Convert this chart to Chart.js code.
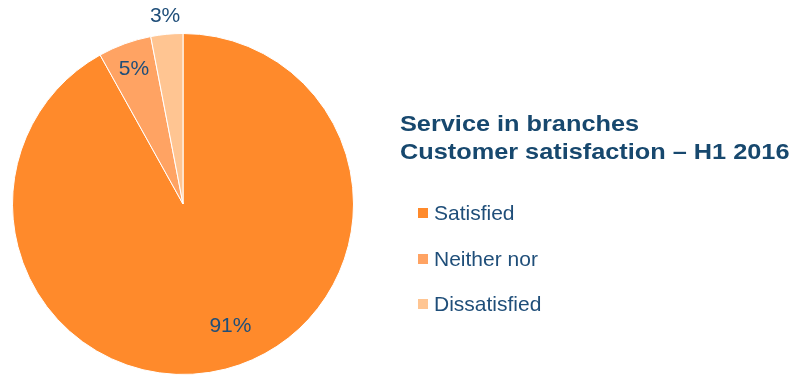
<!DOCTYPE html>
<html>
<head>
<meta charset="utf-8">
<script src="https://cdn.jsdelivr.net/npm/chart.js@4/dist/chart.umd.min.js"></script>
<style>
    html, body { margin: 0; padding: 0; background: #fff; }
    #wrap { position: relative; width: 797px; height: 377px; font-family: "Liberation Sans", Arial, sans-serif; }
    #wrap canvas { position: absolute; left: 0; top: 0; }
    #title { position: absolute; left: 400px; top: 110px; font-size: 22px; line-height: 28px; font-weight: bold; color: #17486e; white-space: nowrap; transform: scaleX(1.15); transform-origin: left top; }
    .legend-row { position: absolute; left: 418px; height: 24px; line-height: 24px; font-size: 21px; color: #1f4e79; white-space: nowrap; }
    .legend-box { position: absolute; left: 0; top: 7px; width: 10px; height: 10px; }
    .legend-text { position: absolute; left: 16px; top: 0; }
</style>
</head>
<body>
<div id="wrap">
    <canvas id="pieChart" width="797" height="377"></canvas>
    <div id="title"></div>
    <div id="legend"></div>
</div>
<script>
const categories = ["Satisfied", "Neither nor", "Dissatisfied"];
const shares = [91, 5, 3]; // percent
const sliceColors = ["#ff8a2b", "#ffa363", "#ffc592"];
const titleLines = ["Service in branches", "Customer satisfaction \u2013 H1 2016"];

// label placement per slice: fraction of the radius, and where along the slice (0..1)
const labelRadius = [0.77, 0.84, 1.105];
const labelAlong = [0.48, 0.5, 0.5];

document.getElementById("title").innerHTML = titleLines.join("<br>");

const legend = document.getElementById("legend");
categories.forEach((name, i) =>
{
    const row = document.createElement("div");
    row.className = "legend-row";
    row.style.top = (201 + i * 45.5) + "px";

    const box = document.createElement("span");
    box.className = "legend-box";
    box.style.background = sliceColors[i];

    const text = document.createElement("span");
    text.className = "legend-text";
    text.textContent = name;

    row.appendChild(box);
    row.appendChild(text);
    legend.appendChild(row);
});

// draws "xx%" next to / inside each slice
const percentLabels = {
    id: "percentLabels",
    afterDatasetsDraw(chart)
    {
        const ctx = chart.ctx;
        const meta = chart.getDatasetMeta(0);
        ctx.save();
        ctx.font = "21px 'Liberation Sans', Arial, sans-serif";
        ctx.fillStyle = "#1f4e79";
        ctx.textAlign = "center";
        ctx.textBaseline = "middle";
        meta.data.forEach((arc, i) =>
        {
            const p = arc.getProps(["x", "y", "startAngle", "endAngle", "outerRadius"], true);
            const a = p.startAngle + (p.endAngle - p.startAngle) * labelAlong[i];
            const r = p.outerRadius * labelRadius[i];
            ctx.fillText(shares[i] + "%", p.x + Math.cos(a) * r, p.y + Math.sin(a) * r);
        });
        ctx.restore();
    }
};

new Chart(document.getElementById("pieChart"), {
    type: "pie",
    data: {
        labels: categories,
        datasets: [{
            data: shares,
            backgroundColor: sliceColors,
            borderColor: "#ffffff",
            borderWidth: 1
        }]
    },
    options: {
        responsive: false,
        animation: false,
        layout: { padding: { left: 12, right: 443, top: 33, bottom: 2 } },
        plugins: {
            legend: { display: false },
            tooltip: { enabled: false }
        }
    },
    plugins: [percentLabels]
});
</script>
</body>
</html>
